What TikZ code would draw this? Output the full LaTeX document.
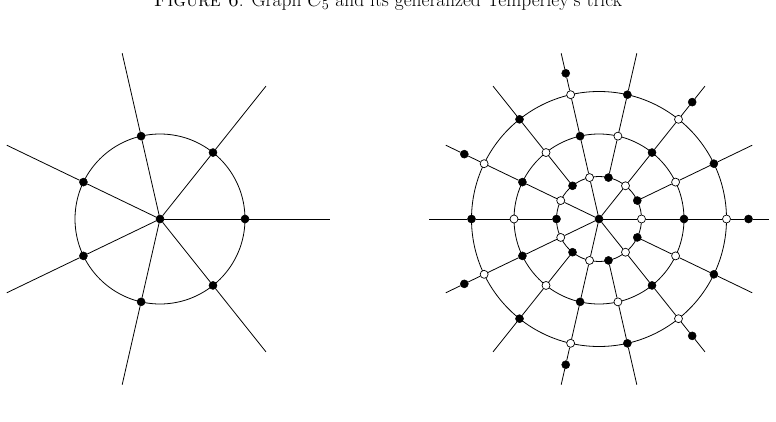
\documentclass[tikz,border=0pt]{standalone}
\usetikzlibrary{calc}
\tikzset{
  bdot/.style={circle,fill=black,draw=black,line width=0.5pt,inner sep=0pt,minimum size=8pt},
  wdot/.style={circle,fill=white,draw=black,line width=0.7pt,inner sep=0pt,minimum size=8pt},
  edgeline/.style={line width=0.8pt},
}
\begin{document}
\begin{tikzpicture}[x=1pt,y=1pt]
\useasboundingbox (0,0) rectangle (776,421);
\node[anchor=base,inner sep=0pt,font=\fontsize{19.5}{22}\selectfont] (cap) at (388,414.5)
  {\textsc{Figure 6}: Graph $C_5$ and its generalized Temperley's trick};
% left graph
\coordinate (L) at (160,202);
\draw[edgeline] (L) circle (85);
\node[bdot] (lc) at (L) {};
\foreach \k in {0,...,6}{
  \pgfmathsetmacro\a{\k*360/7}
  \node[bdot] (lv\k) at ($(L)+(\a:85)$) {};
  \coordinate (le\k) at ($(L)+(\a:170)$);
  \draw[edgeline] (lc) -- (lv\k) -- (le\k);
}
% right graph
\coordinate (R) at (599,202);
\foreach \r in {42.5,85,127.5} \draw[edgeline] (R) circle (\r);
\node[bdot] (rc) at (R) {};
\foreach \k in {0,...,13}{
  \pgfmathsetmacro\a{\k*360/14}
  \ifodd\k
    \node[bdot] (in\k) at ($(R)+(\a:42.5)$) {};
    \node[wdot] (mid\k) at ($(R)+(\a:85)$) {};
    \node[bdot] (out\k) at ($(R)+(\a:127.5)$) {};
    \coordinate (re\k) at ($(R)+(\a:170)$);
    \draw[edgeline] (in\k) -- (mid\k) -- (out\k) -- (re\k);
  \else
    \node[wdot] (in\k) at ($(R)+(\a:42.5)$) {};
    \node[bdot] (mid\k) at ($(R)+(\a:85)$) {};
    \node[wdot] (out\k) at ($(R)+(\a:127.5)$) {};
    \node[bdot] (ex\k) at ($(R)+(\a:149.5)$) {};
    \coordinate (re\k) at ($(R)+(\a:170)$);
    \draw[edgeline] (rc) -- (in\k) -- (mid\k) -- (out\k) -- (ex\k) -- (re\k);
  \fi
}
\end{tikzpicture}
\end{document}
